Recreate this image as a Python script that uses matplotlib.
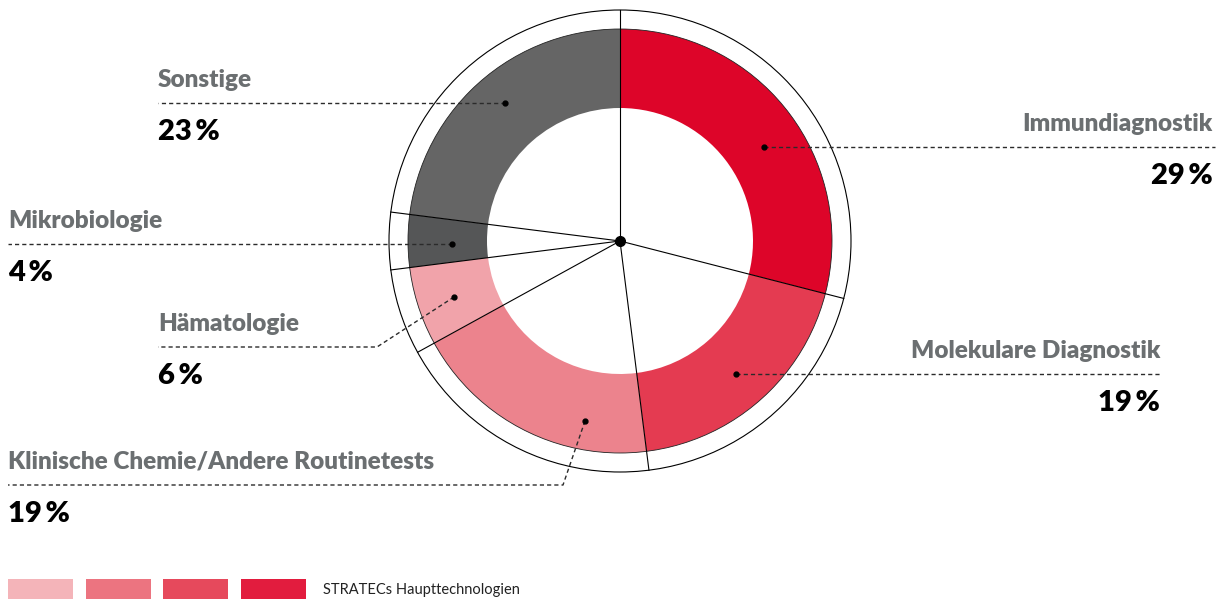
import matplotlib
matplotlib.use('Agg')
import numpy as np
import matplotlib.pyplot as plt
from matplotlib.patches import Circle, Rectangle

# ====== data ======
categories = ['Immundiagnostik', 'Molekulare Diagnostik',
              'Klinische Chemie/Andere Routinetests', 'Hämatologie',
              'Mikrobiologie', 'Sonstige']
shares = [29, 19, 19, 6, 4, 23]
share_labels = ['29\u2009%', '19\u2009%', '19\u2009%', '6\u2009%', '4\u2009%', '23\u2009%']
legend_label = 'STRATECs Haupttechnologien'

# ====== styles / layout (pixel coords, y down) ======
slice_colors = ['#dd0529', '#e43b51', '#ec838d', '#f1a3aa', '#555657', '#656565']
legend_colors = ['#f4b4b9', '#ec7480', '#e6495c', '#e21c3e']
W, H = 1225, 599
center = (620, 241)
r_ring, r_hole, r_outer = 212, 133, 231

# dot position, optional elbow point, end of the dashed line, alignment
label_layout = [
    ((764, 147), None, 1215, 'right'),
    ((736, 374), None, 1162, 'right'),
    ((585, 421), (563, 485), 8, 'left'),
    ((454, 297), (377, 347), 158, 'left'),
    ((452, 244), None, 8, 'left'),
    ((505, 103), None, 158, 'left'),
]

plt.rcParams['font.family'] = ['Lato', 'DejaVu Sans']
grey = '#6b6f71'

fig = plt.figure(figsize=(W / 100, H / 100), dpi=100)
ax = fig.add_axes([0, 0, 1, 1])

# y axis points down, so counterclock=True runs clockwise on screen
ax.pie(shares, colors=slice_colors, startangle=-90, counterclock=True,
       radius=r_ring, center=center, frame=True,
       wedgeprops=dict(width=r_ring - r_hole, linewidth=0))

ax.add_patch(Circle(center, r_ring, fill=False, lw=0.6, color='#222222', zorder=3))
ax.add_patch(Circle(center, r_outer, fill=False, lw=0.8, color='black', zorder=3))

# radial separators
cum = np.concatenate([[0], np.cumsum(shares)[:-1]])
for c in cum:
    th = np.deg2rad(-90 + 360 * c / sum(shares))
    ax.plot([center[0], center[0] + r_outer * np.cos(th)],
            [center[1], center[1] + r_outer * np.sin(th)],
            color='black', lw=0.8, zorder=4)
ax.plot(*center, 'o', color='black', ms=7, zorder=5)

# labels
for name, pct, (dot, elbow, end, ha) in zip(categories, share_labels, label_layout):
    xs, ys = [dot[0]], [dot[1]]
    if elbow is not None:
        xs.append(elbow[0]); ys.append(elbow[1])
    y_line = ys[-1]
    xs.append(end); ys.append(y_line)
    ax.plot(xs, ys, ls=(0, (3, 2.2)), lw=1.0, color='#2b2b2b', zorder=6)
    ax.plot(*dot, 'o', color='black', ms=3.5, zorder=7)
    tx = end - 2 if ha == 'right' else end
    ax.text(tx, y_line - 16, name, ha=ha, va='baseline', fontsize=17.5,
            fontweight='heavy', color=grey)
    ax.text(tx, y_line + 37, pct, ha=ha, va='baseline', fontsize=21,
            fontweight='heavy', color='black')

# legend swatches
for i, col in enumerate(legend_colors):
    ax.add_patch(Rectangle((8 + i * 77.5, 579), 65, 20, color=col, lw=0))
ax.text(323, 590, legend_label, ha='left', va='center', fontsize=10.5, color='#222222')

ax.set_xlim(0, W)
ax.set_ylim(H, 0)
ax.set_aspect('equal')
ax.axis('off')

fig.savefig('out.png', dpi=100)
plt.close(fig)
